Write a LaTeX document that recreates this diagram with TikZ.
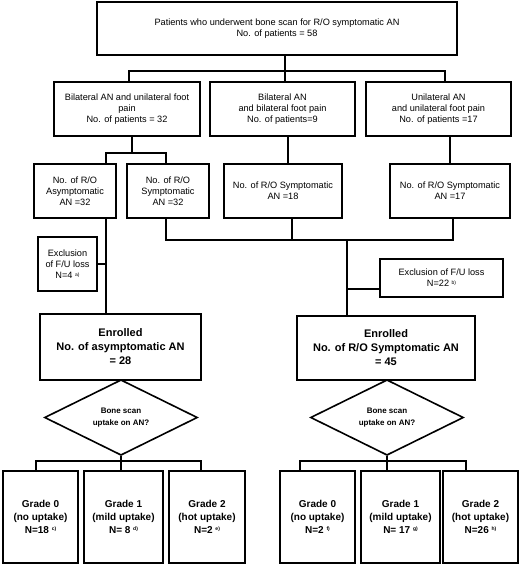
\documentclass[tikz,border=0pt]{standalone}
\usepackage{fontspec}
\setmainfont{Liberation Sans}
\usetikzlibrary{shapes.geometric}
\newcommand{\sups}[1]{\raisebox{0.5ex}{\fontsize{5}{5}\selectfont #1}}
\tikzset{
  box/.style={draw, line width=1.6pt, align=center, inner sep=1pt, font=\fontsize{9.2}{11.2}\selectfont},
  bbox/.style={box, font=\bfseries\fontsize{11}{14}\selectfont},
  gbox/.style={box, font=\bfseries\fontsize{10}{13}\selectfont},
  dia/.style={draw, diamond, line width=1.6pt, align=center, inner sep=0pt, font=\bfseries\fontsize{8}{12}\selectfont},
  conn/.style={line width=1.6pt}
}
\begin{document}
\begin{tikzpicture}[x=1pt,y=-1pt]
\useasboundingbox (0,0) rectangle (520,565);
% nodes
\node[box, minimum width=360, minimum height=53] (top) at (277,28.5) {Patients who underwent bone scan for R/O symptomatic AN\\No. of patients = 58};
\node[box, minimum width=146, minimum height=54] (A) at (127,109) {Bilateral AN and unilateral foot\\pain\\No. of patients = 32};
\node[box, minimum width=145, minimum height=54] (B) at (282.5,109) {Bilateral AN\\and bilateral foot pain\\No. of patients=9};
\node[box, minimum width=145, minimum height=54] (C) at (438.5,109) {Unilateral AN\\and unilateral foot pain\\No. of patients =17};
\node[box, minimum width=82, minimum height=54] (A1) at (75,191) {No. of R/O\\Asymptomatic\\AN =32};
\node[box, minimum width=82, minimum height=54] (A2) at (168,191) {No. of R/O\\Symptomatic\\AN =32};
\node[box, minimum width=118, minimum height=54] (B3) at (283,191) {No. of R/O Symptomatic\\AN =18};
\node[box, minimum width=120, minimum height=54] (C3) at (450,191) {No. of R/O Symptomatic\\AN =17};
\node[box, minimum width=59, minimum height=54] (exl) at (67.5,264) {Exclusion\\of F/U loss\\N=4 \sups{a)}};
\node[box, minimum width=123, minimum height=38] (exr) at (441.5,278) {Exclusion of F/U loss\\N=22 \sups{b)}};
\node[bbox, minimum width=161, minimum height=66] (enl) at (120.5,347) {Enrolled\\No. of asymptomatic AN\\= 28};
\node[bbox, minimum width=178, minimum height=64] (enr) at (386,348) {Enrolled\\No. of R/O Symptomatic AN\\= 45};
\node[dia, minimum width=153, minimum height=53] (dl) at (121,417.5) {Bone scan\\uptake on AN?};
\node[dia, minimum width=153, minimum height=53] (dr) at (387,417.5) {Bone scan\\uptake on AN?};
\node[gbox, minimum width=75, minimum height=92] (g0l) at (40.5,517) {Grade 0\\(no uptake)\\N=18 \sups{c)}};
\node[gbox, minimum width=79, minimum height=92] (g1l) at (123.5,517) {Grade 1\\(mild uptake)\\N= 8 \sups{d)}};
\node[gbox, minimum width=76, minimum height=92] (g2l) at (207,517) {Grade 2\\(hot uptake)\\N=2 \sups{e)}};
\node[gbox, minimum width=75, minimum height=92] (g0r) at (317.5,517) {Grade 0\\(no uptake)\\N=2 \sups{f)}};
\node[gbox, minimum width=79, minimum height=92] (g1r) at (400.5,517) {Grade 1\\(mild uptake)\\N= 17 \sups{g)}};
\node[gbox, minimum width=75, minimum height=92] (g2r) at (480.5,517) {Grade 2\\(hot uptake)\\N=26 \sups{h)}};
% junction coordinates
\coordinate (j1) at (285,71);
\coordinate (j2) at (132,153);
\coordinate (xa1) at (106,0);
\coordinate (xa2) at (166,0);
\coordinate (j3) at (347,240);
\coordinate (xb3) at (292,0);
\coordinate (xc3) at (453,0);
\coordinate (jl) at (121,461);
\coordinate (jr) at (387,461);
% connectors level 1
\draw[conn] (j1 |- top.south) -- (j1);
\draw[conn] (A.north -| 129,0) |- (j1) -| (C.north -| 445,0);
\draw[conn] (j1) -- (j1 |- B.north);
% level 2
\draw[conn] (j2 |- A.south) -- (j2);
\draw[conn] (A1.north -| xa1) |- (j2) -| (A2.north -| xa2);
\draw[conn] (B.south -| 288,0) -- (B3.north -| 288,0);
\draw[conn] (C.south -| 450,0) -- (C3.north -| 450,0);
% left branch
\draw[conn] (A1.south -| xa1) -- (enl.north -| xa1);
\draw[conn] (exl.east) -- (exl.east -| xa1);
% right branch
\draw[conn] (A2.south -| xa2) |- (j3) -| (C3.south -| xc3);
\draw[conn] (B3.south -| xb3) -- (xb3 |- j3);
\draw[conn] (j3) -- (enr.north -| j3);
\draw[conn] (j3 |- 0,289) -- (exr.west |- 0,289);
% diamonds
\draw[conn] (enl.south -| dl.north) -- (dl.north);
\draw[conn] (enr.south -| dr.north) -- (dr.north);
\draw[conn] (dl.south) -- (jl);
\draw[conn] (dr.south) -- (jr);
\draw[conn] (g0l.north -| 36,0) |- (jl) -| (g2l.north -| 201,0);
\draw[conn] (jl) -- (jl |- g1l.north);
\draw[conn] (g0r.north -| 300,0) |- (jr) -| (g2r.north -| 466,0);
\draw[conn] (jr) -- (jr |- g1r.north);
\end{tikzpicture}
\end{document}
